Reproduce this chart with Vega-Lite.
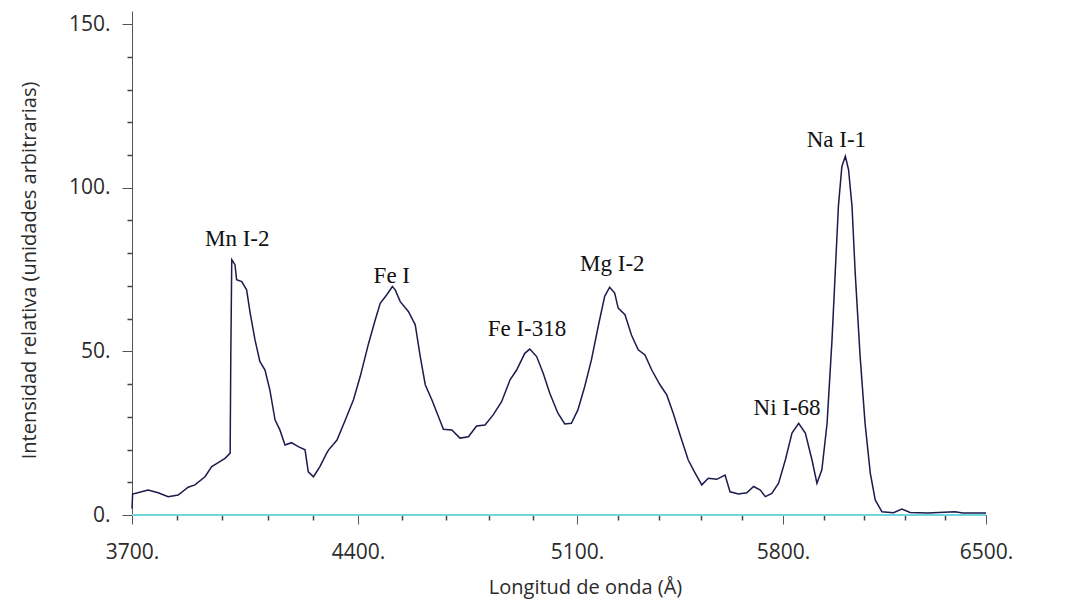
{
  "$schema": "https://vega.github.io/schema/vega-lite/v6.json",
  "width": 854,
  "height": 504,
  "autosize": {"type": "none"},
  "padding": {"left": 132, "top": 11, "right": 95, "bottom": 91},
  "background": "white",
  "config": {
    "view": {"stroke": null},
    "axis": {
      "labelFont": "Open Sans",
      "titleFont": "Open Sans",
      "labelFontSize": 21,
      "titleFontSize": 20,
      "labelFontWeight": "normal",
      "titleFontWeight": "normal",
      "labelColor": "#2b2b2b",
      "titleColor": "#2b2b2b",
      "domainColor": "#555555",
      "tickColor": "#555555",
      "grid": false,
      "labelFlush": false,
      "labelOverlap": false,
      "labelBound": false
    }
  },
  "resolve": {"axis": {"x": "independent", "y": "independent"}},
  "layer": [
    {
      "data": {"values": [{}]},
      "mark": {"type": "rule", "color": "#6fd6dc", "strokeWidth": 2},
      "encoding": {"y": {"datum": 0, "type": "quantitative", "axis": null}}
    },
    {
      "data": {
        "values": [
          {"wl": 3700, "int": 2}, {"wl": 3702, "int": 6.5}, {"wl": 3709, "int": 6.6}, {"wl": 3750, "int": 7.6},
          {"wl": 3781, "int": 6.8}, {"wl": 3812, "int": 5.6}, {"wl": 3843, "int": 6.1}, {"wl": 3874, "int": 8.5},
          {"wl": 3895, "int": 9.2}, {"wl": 3926, "int": 11.7}, {"wl": 3947, "int": 14.8}, {"wl": 3967, "int": 16.0},
          {"wl": 3988, "int": 17.3}, {"wl": 4004, "int": 18.9}, {"wl": 4006, "int": 48.4}, {"wl": 4009, "int": 78.0},
          {"wl": 4019, "int": 76.5}, {"wl": 4024, "int": 71.9}, {"wl": 4040, "int": 71.3}, {"wl": 4055, "int": 68.8},
          {"wl": 4066, "int": 61.7}, {"wl": 4081, "int": 53.5}, {"wl": 4096, "int": 46.9}, {"wl": 4112, "int": 44.3},
          {"wl": 4127, "int": 38.2}, {"wl": 4143, "int": 29.1}, {"wl": 4158, "int": 26.0}, {"wl": 4174, "int": 21.4},
          {"wl": 4194, "int": 22.1}, {"wl": 4215, "int": 20.9}, {"wl": 4236, "int": 19.9}, {"wl": 4246, "int": 13.2},
          {"wl": 4262, "int": 11.7}, {"wl": 4282, "int": 14.8}, {"wl": 4303, "int": 18.9}, {"wl": 4309, "int": 19.9},
          {"wl": 4335, "int": 22.9}, {"wl": 4361, "int": 29.1}, {"wl": 4386, "int": 35.2}, {"wl": 4407, "int": 42.3},
          {"wl": 4434, "int": 52.5}, {"wl": 4455, "int": 59.6}, {"wl": 4471, "int": 64.7}, {"wl": 4492, "int": 67.3},
          {"wl": 4510, "int": 69.8}, {"wl": 4519, "int": 68.8}, {"wl": 4535, "int": 65.2}, {"wl": 4561, "int": 62.2},
          {"wl": 4583, "int": 58.1}, {"wl": 4599, "int": 48.4}, {"wl": 4615, "int": 39.8}, {"wl": 4636, "int": 35.2},
          {"wl": 4657, "int": 30.1}, {"wl": 4673, "int": 26.2}, {"wl": 4700, "int": 26.0}, {"wl": 4726, "int": 23.5},
          {"wl": 4753, "int": 23.9}, {"wl": 4779, "int": 27.2}, {"wl": 4806, "int": 27.5}, {"wl": 4832, "int": 30.6},
          {"wl": 4859, "int": 34.6}, {"wl": 4886, "int": 41.3}, {"wl": 4907, "int": 44.3}, {"wl": 4933, "int": 49.4},
          {"wl": 4949, "int": 50.7}, {"wl": 4971, "int": 48.4}, {"wl": 4992, "int": 43.3}, {"wl": 5013, "int": 37.2},
          {"wl": 5039, "int": 31.1}, {"wl": 5061, "int": 27.8}, {"wl": 5082, "int": 28.0}, {"wl": 5103, "int": 32.1},
          {"wl": 5126, "int": 39.2}, {"wl": 5149, "int": 47.4}, {"wl": 5172, "int": 57.6}, {"wl": 5194, "int": 66.8},
          {"wl": 5211, "int": 69.6}, {"wl": 5228, "int": 67.8}, {"wl": 5240, "int": 63.2}, {"wl": 5263, "int": 61.2},
          {"wl": 5285, "int": 55.0}, {"wl": 5308, "int": 50.5}, {"wl": 5331, "int": 48.9}, {"wl": 5354, "int": 44.3},
          {"wl": 5382, "int": 39.8}, {"wl": 5405, "int": 36.7}, {"wl": 5427, "int": 31.1}, {"wl": 5450, "int": 24.5},
          {"wl": 5478, "int": 16.8}, {"wl": 5501, "int": 12.9}, {"wl": 5524, "int": 9.2}, {"wl": 5546, "int": 11.2},
          {"wl": 5575, "int": 10.9}, {"wl": 5603, "int": 12.2}, {"wl": 5620, "int": 7.1}, {"wl": 5649, "int": 6.4},
          {"wl": 5677, "int": 6.8}, {"wl": 5700, "int": 8.7}, {"wl": 5723, "int": 7.6}, {"wl": 5740, "int": 5.6},
          {"wl": 5762, "int": 6.6}, {"wl": 5785, "int": 9.7}, {"wl": 5808, "int": 16.8}, {"wl": 5831, "int": 25.0},
          {"wl": 5854, "int": 28.0}, {"wl": 5877, "int": 25.0}, {"wl": 5900, "int": 16.8}, {"wl": 5917, "int": 9.7},
          {"wl": 5934, "int": 13.8}, {"wl": 5952, "int": 28.0}, {"wl": 5969, "int": 53.5}, {"wl": 5980, "int": 73.9},
          {"wl": 5991, "int": 94.3}, {"wl": 6003, "int": 106.5}, {"wl": 6015, "int": 109.6}, {"wl": 6026, "int": 105.5},
          {"wl": 6038, "int": 94.3}, {"wl": 6049, "int": 73.9}, {"wl": 6066, "int": 48.4}, {"wl": 6083, "int": 28.0},
          {"wl": 6101, "int": 12.8}, {"wl": 6118, "int": 4.6}, {"wl": 6141, "int": 1.0}, {"wl": 6181, "int": 0.7},
          {"wl": 6210, "int": 1.8}, {"wl": 6238, "int": 0.8}, {"wl": 6300, "int": 0.6}, {"wl": 6393, "int": 1.0},
          {"wl": 6420, "int": 0.6}, {"wl": 6500, "int": 0.6}
        ]
      },
      "mark": {"type": "line", "color": "#1b1b4d", "strokeWidth": 1.5, "interpolate": "linear"},
      "encoding": {
        "x": {
          "field": "wl",
          "type": "quantitative",
          "scale": {"domain": [3700, 4400, 5100, 5800, 6500], "range": [0, 226, 445, 651, 854], "nice": false, "zero": false},
          "axis": {
            "orient": "bottom",
            "title": "Longitud de onda (Å)",
            "values": [3700, 4400, 5100, 5800, 6500],
            "labelExpr": "datum.value + '.'",
            "tickSize": 9,
            "labelBaseline": "alphabetic",
            "labelPadding": 34,
            "titleX": 453,
            "titleY": 78,
            "titleBaseline": "alphabetic"
          }
        },
        "y": {
          "field": "int",
          "type": "quantitative",
          "scale": {"domain": [0, 154], "nice": false},
          "axis": {
            "orient": "left",
            "title": "Intensidad relativa (unidades arbitrarias)",
            "values": [0, 50, 100, 150],
            "labelExpr": "datum.value + '.'",
            "tickSize": 10,
            "labelPadding": 12,
            "titleX": -97,
            "titleY": 259,
            "titleBaseline": "alphabetic"
          }
        }
      }
    },
    {
      "data": {
        "values": [
          {"label": "Mn I-2", "wl": 4026, "int": 82.3},
          {"label": "Fe I", "wl": 4508, "int": 70.9},
          {"label": "Fe I-318", "wl": 4940, "int": 54.7},
          {"label": "Mg I-2", "wl": 5220, "int": 74.6},
          {"label": "Ni I-68", "wl": 5814, "int": 30.6},
          {"label": "Na I-1", "wl": 5984, "int": 112.5}
        ]
      },
      "mark": {"type": "text", "font": "Liberation Serif", "fontSize": 23, "color": "#111111", "align": "center", "baseline": "alphabetic"},
      "encoding": {
        "x": {
          "field": "wl",
          "type": "quantitative",
          "axis": {
            "orient": "bottom",
            "title": null,
            "labels": false,
            "domain": false,
            "tickSize": 5,
            "tickWidth": 1.5,
            "tickColor": "#444444",
            "values": [3840, 3980, 4120, 4260, 4540, 4680, 4820, 4960, 5240, 5380, 5520, 5660, 5940, 6080, 6220, 6360]
          }
        },
        "y": {
          "field": "int",
          "type": "quantitative",
          "axis": {
            "orient": "left",
            "title": null,
            "labels": false,
            "domain": false,
            "tickSize": 5,
            "tickWidth": 1.5,
            "tickColor": "#444444",
            "values": [10, 20, 30, 40, 60, 70, 80, 90, 110, 120, 130, 140]
          }
        },
        "text": {"field": "label"}
      }
    }
  ]
}
